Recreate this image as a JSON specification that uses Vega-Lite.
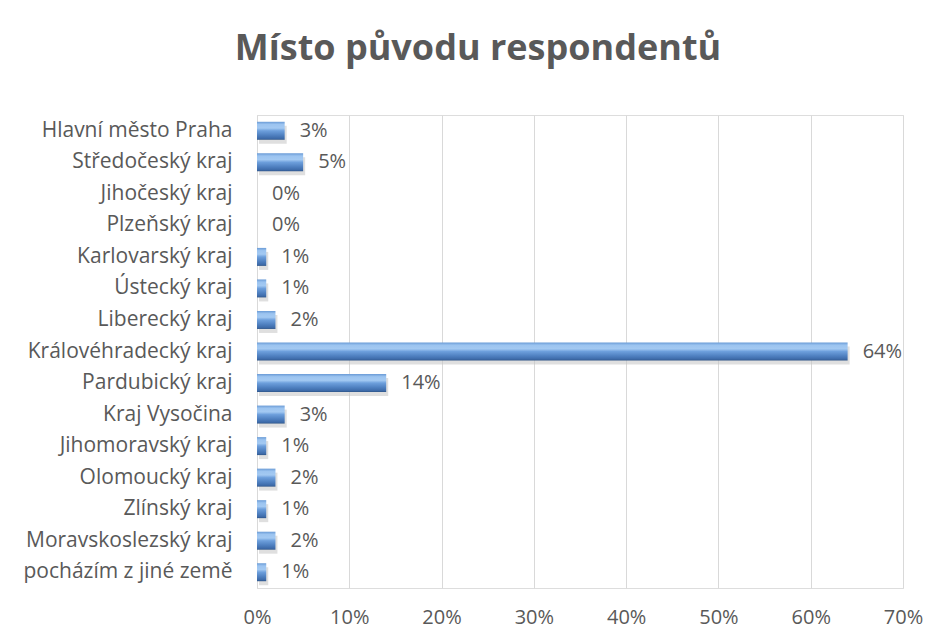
{
  "$schema": "https://vega.github.io/schema/vega-lite/v6.json",
  "autosize": {"type": "none"},
  "padding": {"left": 257, "top": 115, "right": 36, "bottom": 55},
  "width": 646,
  "height": 473,
  "background": "white",
  "title": {
    "text": "Místo původu respondentů",
    "font": "Open Sans",
    "fontSize": 36,
    "fontWeight": "bold",
    "color": "#595959",
    "anchor": "middle",
    "frame": "group",
    "dx": -102,
    "baseline": "alphabetic",
    "offset": 19
  },
  "data": {
    "values": [
      {"kraj": "Hlavní město Praha", "podil": 0.03},
      {"kraj": "Středočeský kraj", "podil": 0.05},
      {"kraj": "Jihočeský kraj", "podil": 0.0},
      {"kraj": "Plzeňský kraj", "podil": 0.0},
      {"kraj": "Karlovarský kraj", "podil": 0.01},
      {"kraj": "Ústecký kraj", "podil": 0.01},
      {"kraj": "Liberecký kraj", "podil": 0.02},
      {"kraj": "Královéhradecký kraj", "podil": 0.64},
      {"kraj": "Pardubický kraj", "podil": 0.14},
      {"kraj": "Kraj Vysočina", "podil": 0.03},
      {"kraj": "Jihomoravský kraj", "podil": 0.01},
      {"kraj": "Olomoucký kraj", "podil": 0.02},
      {"kraj": "Zlínský kraj", "podil": 0.01},
      {"kraj": "Moravskoslezský kraj", "podil": 0.02},
      {"kraj": "pocházím z jiné země", "podil": 0.01}
    ]
  },
  "encoding": {
    "y": {
      "field": "kraj",
      "type": "nominal",
      "sort": null,
      "scale": {"paddingInner": 0.43, "paddingOuter": 0.215},
      "axis": {
        "title": null,
        "ticks": false,
        "tickSize": 0,
        "labelPadding": 25,
        "labelLimit": 300,
        "labelFont": "Open Sans",
        "labelFontSize": 21,
        "labelColor": "#595959",
        "domainColor": "#d9d9d9",
        "domainWidth": 1,
        "grid": false
      }
    },
    "x": {
      "field": "podil",
      "type": "quantitative",
      "scale": {"domain": [0, 0.7], "nice": false},
      "axis": {
        "title": null,
        "format": ".0%",
        "values": [0, 0.1, 0.2, 0.3, 0.4, 0.5, 0.6, 0.7],
        "ticks": false,
        "tickSize": 0,
        "domain": false,
        "grid": true,
        "gridColor": "#d9d9d9",
        "gridWidth": 1,
        "labelFlush": false,
        "labelPadding": 19,
        "labelFont": "Open Sans",
        "labelFontSize": 20,
        "labelColor": "#595959"
      }
    }
  },
  "layer": [
    {
      "mark": {"type": "bar", "color": "#c4c4c4", "opacity": 0.55, "yOffset": 4, "y2Offset": 4, "xOffset": 2, "x2Offset": 3}
    },
    {
      "mark": {
        "type": "bar",
        "color": {
          "gradient": "linear",
          "x1": 0, "y1": 0, "x2": 0, "y2": 1,
          "stops": [
            {"offset": 0, "color": "#6a9bd6"},
            {"offset": 0.15, "color": "#9cc4f0"},
            {"offset": 0.35, "color": "#a3c9f2"},
            {"offset": 0.5, "color": "#6d9fdc"},
            {"offset": 0.75, "color": "#4f80c0"},
            {"offset": 0.93, "color": "#3d6aa8"},
            {"offset": 1, "color": "#2e5486"}
          ]
        }
      }
    },
    {
      "mark": {"type": "text", "align": "left", "baseline": "middle", "dx": 15, "font": "Open Sans", "fontSize": 20, "color": "#595959"},
      "encoding": {
        "text": {"field": "podil", "type": "quantitative", "format": ".0%"}
      }
    }
  ]
}
